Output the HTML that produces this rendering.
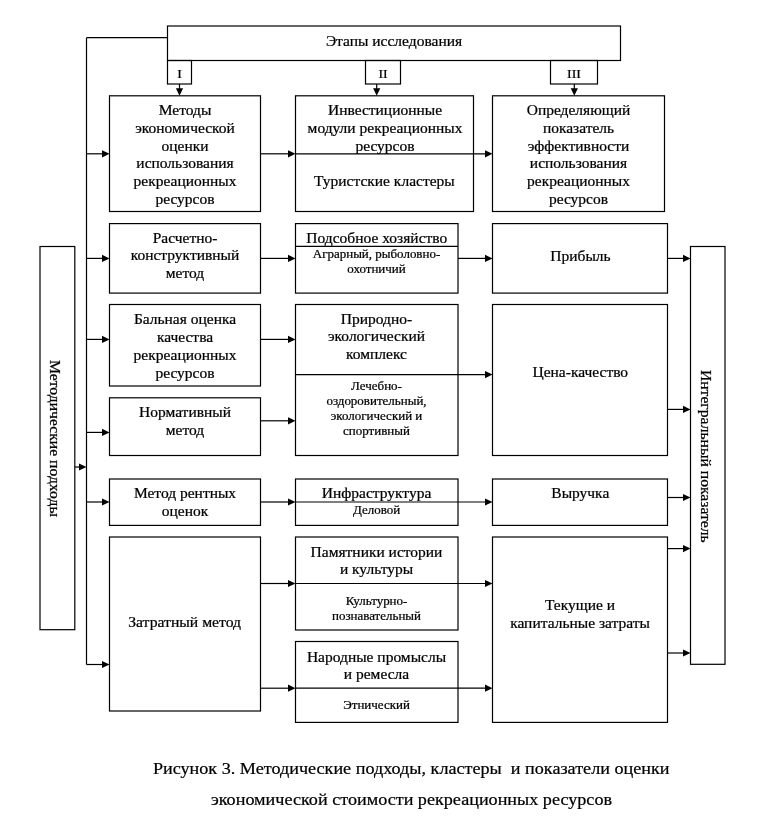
<!DOCTYPE html>
<html lang="ru">
<head>
<meta charset="utf-8">
<title>Рисунок 3</title>
<style>
html,body{margin:0;padding:0;background:#fff;}
body{width:768px;height:819px;overflow:hidden;}
svg{display:block;will-change:transform;}
svg text{font-family:"Liberation Serif","DejaVu Serif",serif;fill:#000;stroke:#000;stroke-width:0.24;}
.ln{stroke:#000;stroke-width:1.2;fill:none;}
.hd{fill:#000;stroke:none;}
</style>
</head>
<body>
<svg width="768" height="819" viewBox="0 0 768 819">
<rect x="0" y="0" width="768" height="819" fill="#ffffff"/>
<g class="ln">
<rect x="167.5" y="26" width="453" height="34.5"/>
<rect x="167.5" y="60.5" width="24" height="23.5"/>
<rect x="365.5" y="60.5" width="35" height="23.5"/>
<rect x="550.5" y="60.5" width="47" height="23.5"/>
<line x1="179.5" y1="84" x2="179.5" y2="89.3"/>
<line x1="376.7" y1="84" x2="376.7" y2="89.3"/>
<line x1="574.3" y1="84" x2="574.3" y2="89.3"/>
<line x1="86.5" y1="37.7" x2="167.5" y2="37.7"/>
<line x1="86.5" y1="37.7" x2="86.5" y2="664.5"/>
<rect x="109.5" y="95.8" width="151" height="115.7"/>
<rect x="295.5" y="95.8" width="178" height="115.7"/>
<rect x="492.5" y="95.8" width="172" height="115.7"/>
<line x1="86.5" y1="153.8" x2="103" y2="153.8"/>
<line x1="260.5" y1="153.8" x2="289" y2="153.8"/>
<line x1="295.5" y1="153.8" x2="486" y2="153.8"/>
<rect x="109.5" y="223.6" width="151" height="69.5"/>
<rect x="295.5" y="223.6" width="162.5" height="69.5"/>
<line x1="295.5" y1="246.4" x2="458" y2="246.4"/>
<rect x="492.5" y="223.6" width="175" height="69.5"/>
<line x1="86.5" y1="258.4" x2="103" y2="258.4"/>
<line x1="260.5" y1="258.4" x2="289" y2="258.4"/>
<line x1="458" y1="258.4" x2="486" y2="258.4"/>
<line x1="667.5" y1="258.4" x2="684" y2="258.4"/>
<rect x="40" y="246.5" width="34.8" height="383.2"/>
<rect x="690.5" y="246.5" width="34.5" height="417.8"/>
<line x1="74.8" y1="467" x2="80" y2="467"/>
<rect x="109.5" y="304.5" width="151" height="81.5"/>
<rect x="109.5" y="397.8" width="151" height="57.7"/>
<rect x="295.5" y="304.5" width="162.5" height="151"/>
<rect x="492.5" y="304.5" width="175" height="151"/>
<line x1="86.5" y1="339.4" x2="103" y2="339.4"/>
<line x1="260.5" y1="339.4" x2="289" y2="339.4"/>
<line x1="86.5" y1="432.4" x2="103" y2="432.4"/>
<line x1="260.5" y1="420.8" x2="289" y2="420.8"/>
<line x1="295.5" y1="374.6" x2="486" y2="374.6"/>
<line x1="667.5" y1="409.4" x2="684" y2="409.4"/>
<rect x="109.5" y="479" width="151" height="46.4"/>
<rect x="295.5" y="479" width="162.5" height="46.4"/>
<rect x="492.5" y="479" width="175" height="46.4"/>
<line x1="86.5" y1="502" x2="103" y2="502"/>
<line x1="260.5" y1="502" x2="289" y2="502"/>
<line x1="295.5" y1="502" x2="486" y2="502"/>
<line x1="667.5" y1="497.5" x2="684" y2="497.5"/>
<rect x="109.5" y="537" width="151" height="174"/>
<rect x="295.5" y="537" width="162.5" height="93"/>
<rect x="295.5" y="641.5" width="162.5" height="80.9"/>
<rect x="492.5" y="537" width="175" height="185.4"/>
<line x1="86.5" y1="664.5" x2="103" y2="664.5"/>
<line x1="260.5" y1="583.5" x2="289" y2="583.5"/>
<line x1="295.5" y1="583.5" x2="486" y2="583.5"/>
<line x1="260.5" y1="688.2" x2="289" y2="688.2"/>
<line x1="295.5" y1="688.2" x2="486" y2="688.2"/>
<line x1="667.5" y1="548.6" x2="684" y2="548.6"/>
<line x1="667.5" y1="653" x2="684" y2="653"/>
</g>
<g class="hd">
<polygon points="179.5,95.8 175.9,88.3 183.1,88.3"/>
<polygon points="376.7,95.8 373.1,88.3 380.3,88.3"/>
<polygon points="574.3,95.8 570.7,88.3 577.9,88.3"/>
<polygon points="109.5,153.8 102,150.2 102,157.4"/>
<polygon points="295.5,153.8 288,150.2 288,157.4"/>
<polygon points="492.5,153.8 485,150.2 485,157.4"/>
<polygon points="109.5,258.4 102,254.8 102,262"/>
<polygon points="295.5,258.4 288,254.8 288,262"/>
<polygon points="492.5,258.4 485,254.8 485,262"/>
<polygon points="690.5,258.4 683,254.8 683,262"/>
<polygon points="86.5,467 79,463.4 79,470.6"/>
<polygon points="109.5,339.4 102,335.8 102,343"/>
<polygon points="295.5,339.4 288,335.8 288,343"/>
<polygon points="109.5,432.4 102,428.8 102,436"/>
<polygon points="295.5,420.8 288,417.2 288,424.4"/>
<polygon points="492.5,374.6 485,371 485,378.2"/>
<polygon points="690.5,409.4 683,405.8 683,413"/>
<polygon points="109.5,502 102,498.4 102,505.6"/>
<polygon points="295.5,502 288,498.4 288,505.6"/>
<polygon points="492.5,502 485,498.4 485,505.6"/>
<polygon points="690.5,497.5 683,493.9 683,501.1"/>
<polygon points="109.5,664.5 102,660.9 102,668.1"/>
<polygon points="295.5,583.5 288,579.9 288,587.1"/>
<polygon points="492.5,583.5 485,579.9 485,587.1"/>
<polygon points="295.5,688.2 288,684.6 288,691.8"/>
<polygon points="492.5,688.2 485,684.6 485,691.8"/>
<polygon points="690.5,548.6 683,545 683,552.2"/>
<polygon points="690.5,653 683,649.4 683,656.6"/>
</g>
<g>
<text transform="translate(394 46) scale(1 0.95)" font-size="15.5" text-anchor="middle">Этапы исследования</text>
<text transform="translate(179.5 78) scale(1 0.95)" font-size="13.8" text-anchor="middle">I</text>
<text transform="translate(383 78) scale(1 0.95)" font-size="13.8" text-anchor="middle">II</text>
<text transform="translate(574 78) scale(1 0.95)" font-size="13.8" text-anchor="middle">III</text>
<text transform="translate(185 115) scale(1 0.95)" font-size="15.5" text-anchor="middle">Методы</text>
<text transform="translate(185 133) scale(1 0.95)" font-size="15.5" text-anchor="middle">экономической</text>
<text transform="translate(185 151) scale(1 0.95)" font-size="15.5" text-anchor="middle">оценки</text>
<text transform="translate(185 168) scale(1 0.95)" font-size="15.5" text-anchor="middle">использования</text>
<text transform="translate(185 186) scale(1 0.95)" font-size="15.5" text-anchor="middle">рекреационных</text>
<text transform="translate(185 204) scale(1 0.95)" font-size="15.5" text-anchor="middle">ресурсов</text>
<text transform="translate(385 115) scale(1 0.95)" font-size="15.5" text-anchor="middle">Инвестиционные</text>
<text transform="translate(385 133) scale(1 0.95)" font-size="15.5" text-anchor="middle">модули рекреационных</text>
<text transform="translate(385 151) scale(1 0.95)" font-size="15.5" text-anchor="middle">ресурсов</text>
<text transform="translate(384.4 186) scale(1 0.95)" font-size="15.5" text-anchor="middle">Туристские кластеры</text>
<text transform="translate(578.5 115) scale(1 0.95)" font-size="15.5" text-anchor="middle">Определяющий</text>
<text transform="translate(578.5 133) scale(1 0.95)" font-size="15.5" text-anchor="middle">показатель</text>
<text transform="translate(578.5 151) scale(1 0.95)" font-size="15.5" text-anchor="middle">эффективности</text>
<text transform="translate(578.5 168) scale(1 0.95)" font-size="15.5" text-anchor="middle">использования</text>
<text transform="translate(578.5 186) scale(1 0.95)" font-size="15.5" text-anchor="middle">рекреационных</text>
<text transform="translate(578.5 204) scale(1 0.95)" font-size="15.5" text-anchor="middle">ресурсов</text>
<text transform="translate(185 243) scale(1 0.95)" font-size="15.5" text-anchor="middle">Расчетно-</text>
<text transform="translate(185 260) scale(1 0.95)" font-size="15.5" text-anchor="middle">конструктивный</text>
<text transform="translate(185 278) scale(1 0.95)" font-size="15.5" text-anchor="middle">метод</text>
<text transform="translate(376.8 243) scale(1 0.95)" font-size="15.5" text-anchor="middle">Подсобное хозяйство</text>
<text transform="translate(376.5 258) scale(1 0.95)" font-size="13.0" text-anchor="middle">Аграрный, рыболовно-</text>
<text transform="translate(376.5 273) scale(1 0.95)" font-size="13.0" text-anchor="middle">охотничий</text>
<text transform="translate(580.5 261) scale(1 0.95)" font-size="15.5" text-anchor="middle">Прибыль</text>
<text transform="translate(185 324) scale(1 0.95)" font-size="15.5" text-anchor="middle">Бальная оценка</text>
<text transform="translate(185 342) scale(1 0.95)" font-size="15.5" text-anchor="middle">качества</text>
<text transform="translate(185 360) scale(1 0.95)" font-size="15.5" text-anchor="middle">рекреационных</text>
<text transform="translate(185 378) scale(1 0.95)" font-size="15.5" text-anchor="middle">ресурсов</text>
<text transform="translate(185 417) scale(1 0.95)" font-size="15.5" text-anchor="middle">Нормативный</text>
<text transform="translate(185 435) scale(1 0.95)" font-size="15.5" text-anchor="middle">метод</text>
<text transform="translate(376.5 324) scale(1 0.95)" font-size="15.5" text-anchor="middle">Природно-</text>
<text transform="translate(376.5 341) scale(1 0.95)" font-size="15.5" text-anchor="middle">экологический</text>
<text transform="translate(376.5 359) scale(1 0.95)" font-size="15.5" text-anchor="middle">комплекс</text>
<text transform="translate(376.5 390) scale(1 0.95)" font-size="13.0" text-anchor="middle">Лечебно-</text>
<text transform="translate(376.5 405) scale(1 0.95)" font-size="13.0" text-anchor="middle">оздоровительный,</text>
<text transform="translate(376.5 420) scale(1 0.95)" font-size="13.0" text-anchor="middle">экологический и</text>
<text transform="translate(376.5 435) scale(1 0.95)" font-size="13.0" text-anchor="middle">спортивный</text>
<text transform="translate(580.3 377) scale(1 0.95)" font-size="15.5" text-anchor="middle">Цена-качество</text>
<text transform="translate(185 498) scale(1 0.95)" font-size="15.5" text-anchor="middle">Метод рентных</text>
<text transform="translate(185 516) scale(1 0.95)" font-size="15.5" text-anchor="middle">оценок</text>
<text transform="translate(376.5 498) scale(1 0.95)" font-size="15.5" text-anchor="middle">Инфраструктура</text>
<text transform="translate(376.5 514) scale(1 0.95)" font-size="13.0" text-anchor="middle">Деловой</text>
<text transform="translate(580.3 498) scale(1 0.95)" font-size="15.5" text-anchor="middle">Выручка</text>
<text transform="translate(184.6 627) scale(1 0.95)" font-size="15.7" text-anchor="middle">Затратный метод</text>
<text transform="translate(376.5 557) scale(1 0.95)" font-size="15.5" text-anchor="middle">Памятники истории</text>
<text transform="translate(376.5 574) scale(1 0.95)" font-size="15.5" text-anchor="middle">и культуры</text>
<text transform="translate(376.5 605) scale(1 0.95)" font-size="13.0" text-anchor="middle">Культурно-</text>
<text transform="translate(376.5 620) scale(1 0.95)" font-size="13.0" text-anchor="middle">познавательный</text>
<text transform="translate(376.5 662) scale(1 0.95)" font-size="15.5" text-anchor="middle">Народные промыслы</text>
<text transform="translate(376.5 679) scale(1 0.95)" font-size="15.5" text-anchor="middle">и ремесла</text>
<text transform="translate(376.5 709) scale(1 0.95)" font-size="13.0" text-anchor="middle">Этнический</text>
<text transform="translate(580 610) scale(1 0.95)" font-size="15.5" text-anchor="middle">Текущие и</text>
<text transform="translate(580 628) scale(1 0.95)" font-size="15.5" text-anchor="middle">капитальные затраты</text>
<text transform="translate(50 438.5) rotate(90) scale(1 0.95)" font-size="15.68" text-anchor="middle">Методические подходы</text>
<text transform="translate(701 456.3) rotate(90) scale(1 0.95)" font-size="15.65" text-anchor="middle">Интегральный показатель</text>
<text transform="translate(411.2 774) scale(1 0.95)" font-size="18.15" text-anchor="middle" xml:space="preserve" style="white-space:pre">Рисунок 3. Методические подходы, кластеры  и показатели оценки</text>
<text transform="translate(411.5 805) scale(1 0.95)" font-size="18.15" text-anchor="middle">экономической стоимости рекреационных ресурсов</text>
</g>
</svg>
</body>
</html>
